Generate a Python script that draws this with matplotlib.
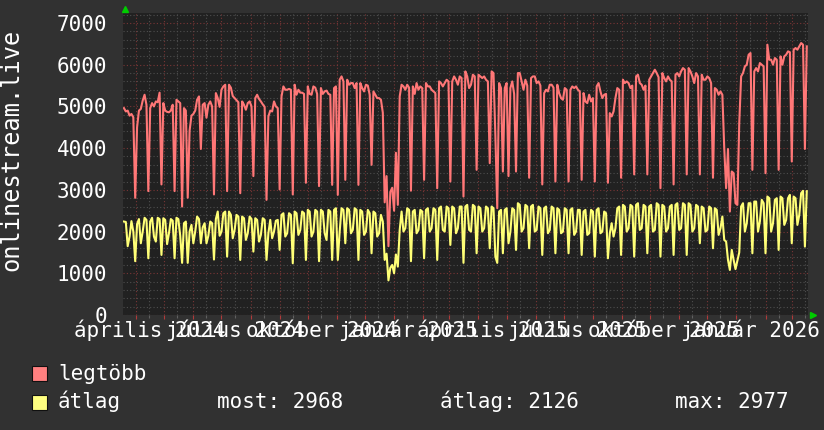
import numpy as np
import matplotlib
matplotlib.use("Agg")
import matplotlib.pyplot as plt
import matplotlib.dates as mdates
from matplotlib.ticker import MultipleLocator, NullFormatter
from matplotlib.patches import Rectangle

# one value per 2-day step starting 2024-03-18, each row = two weeks
start = np.datetime64("2024-03-18")

legtobb = [
    4960, 4880, 4900, 4780, 4820, 4740, 2810,
    4500, 4900, 4940, 5140, 5280, 5040, 2970,
    4960, 5080, 5000, 5120, 5100, 5330, 3130,
    5080, 4900, 4870, 4860, 4900, 5040, 2970,
    5160, 5120, 5080, 2600, 4960, 4900, 2810,
    4420, 4780, 4820, 4900, 5160, 5240, 3980,
    5040, 5080, 4730, 5040, 5120, 5000, 2890,
    5320, 5200, 4990, 5400, 5480, 5520, 2970,
    5520, 5450, 5250, 5200, 5150, 5100, 2920,
    5120, 5040, 4920, 5080, 5120, 5000, 3330,
    5200, 5280, 5180, 5120, 5050, 4990, 2760,
    4760, 4900, 4880, 5120, 5000, 4960, 3010,
    5240, 5480, 5400, 5400, 5420, 5400, 2890,
    5520, 5280, 5400, 5330, 5330, 5300, 3170,
    5480, 5300, 5280, 5480, 5450, 5300, 3090,
    5440, 5300, 5360, 5380, 5300, 5280, 3120,
    5440, 5480, 2880, 5640, 5720, 5600, 3240,
    5640, 5520, 5560, 5560, 5440, 5560, 3120,
    5560, 5440, 5360, 5520, 5500, 5280, 3600,
    5360, 5280, 5200, 5200, 5160, 4850, 2700,
    3330, 1650, 2950, 3050, 2500, 3890, 2640,
    5240, 5520, 5480, 5400, 5520, 5450, 2980,
    5480, 5300, 5560, 5400, 5480, 5440, 3240,
    5560, 5480, 5480, 5400, 5360, 5320, 3040,
    5600, 5560, 5480, 5560, 5640, 5600, 3200,
    5600, 5720, 5640, 5520, 5720, 5680, 2840,
    5840, 5720, 5440, 5520, 5760, 5720, 3480,
    5760, 5720, 5680, 5720, 5640, 5600, 3640,
    5840, 5800, 4300, 2560, 5560, 5440, 3440,
    5440, 5560, 3330, 5440, 5600, 5300, 3440,
    5800, 5800, 5600, 5400, 5640, 5500, 3290,
    5680, 5720, 5720, 5560, 5600, 5500, 3130,
    5320, 5400, 5360, 5520, 5520, 5450, 3200,
    5520, 5320, 5200, 5160, 5440, 5400, 3200,
    5400, 5480, 5440, 5480, 5400, 5360, 3240,
    5320, 5120, 5080, 5280, 5120, 5200, 3200,
    5480, 5560, 5360, 5200, 5280, 5300, 3170,
    4840, 4760, 4880, 5200, 5440, 5400, 3290,
    5640, 5560, 5600, 5560, 5440, 5500, 3370,
    5720, 5760, 5560, 5520, 5400, 5500, 3370,
    5640, 5720, 5800, 5880, 5800, 5700, 3040,
    5800, 5680, 5600, 5720, 5640, 5600, 3130,
    5760, 5800, 5720, 5840, 5920, 5880, 3370,
    5920, 5840, 5720, 5560, 5800, 5720, 3370,
    5760, 5640, 5640, 5720, 5680, 5560, 3290,
    5440, 5400, 5280, 5360, 5280, 4000, 3040,
    3980, 2480, 3440, 3400, 2680, 2640, 4600,
    5720, 5800, 5960, 6000, 6240, 6280, 3480,
    5840, 5920, 5840, 6040, 6000, 5960, 3400,
    6480, 6120, 6120, 6000, 6160, 6120, 3480,
    6200, 6000, 6200, 6240, 6320, 6300, 3680,
    6360, 6400, 6360, 6440, 6520, 6480, 3980,
    6440,
]

atlag = [
    2240, 2230, 1650, 1880, 2250, 2000, 1290,
    2180, 2300, 1720, 2000, 2330, 2280, 1360,
    2240, 2330, 1880, 1760, 2330, 2300, 1440,
    2320, 2280, 1700, 1960, 2300, 2260, 1360,
    2330, 2300, 1900, 1250, 2200, 2240, 1250,
    2000, 2160, 1720, 2000, 2360, 2300, 1720,
    2100, 2200, 1720, 1900, 2240, 2200, 1330,
    2300, 2480, 1900, 2000, 2440, 2480, 1400,
    2480, 2400, 1840, 2040, 2400, 2360, 1320,
    2360, 2320, 1800, 1960, 2360, 2300, 1520,
    2320, 2280, 1760, 1920, 2320, 2280, 1320,
    1960, 2280, 1840, 2000, 2260, 2280, 1560,
    2400, 2440, 1880, 1960, 2440, 2400, 1240,
    2480, 2440, 1920, 2040, 2480, 2440, 1320,
    2520, 2480, 1880, 2000, 2520, 2480, 1290,
    2520, 2480, 1960, 1800, 2520, 2480, 1320,
    2520, 2560, 1320, 2000, 2560, 2520, 1720,
    2560, 2520, 1960, 2040, 2560, 2520, 1320,
    2520, 2480, 1920, 2000, 2520, 2440, 1480,
    2480, 2440, 1880, 1960, 2400, 2240, 1320,
    1470, 830, 1130, 1200, 1000, 1450, 1160,
    2040, 2480, 2000, 2080, 2560, 2520, 1290,
    2480, 2520, 1960, 2040, 2520, 2480, 1360,
    2520, 2560, 2000, 2080, 2560, 2520, 1320,
    2560, 2600, 2040, 2000, 2600, 2560, 1680,
    2600, 2560, 1960, 2080, 2600, 2600, 1250,
    2600, 2640, 2040, 2000, 2640, 2600, 1480,
    2600, 2560, 2000, 2080, 2600, 2560, 1600,
    2600, 2560, 1400, 1250, 2480, 2520, 1480,
    2520, 2560, 1720, 2000, 2560, 2520, 1560,
    2680, 2640, 2000, 2080, 2640, 2600, 1600,
    2600, 2640, 2000, 2040, 2600, 2560, 1440,
    2560, 2600, 1960, 2040, 2600, 2560, 1480,
    2560, 2520, 1960, 2000, 2560, 2520, 1480,
    2520, 2560, 1920, 2000, 2520, 2520, 1440,
    2480, 2520, 1920, 1960, 2520, 2480, 1400,
    2520, 2560, 1960, 2000, 2480, 2440, 1360,
    1960, 2200, 1880, 2080, 2560, 2600, 1440,
    2640, 2600, 2000, 2080, 2640, 2600, 1400,
    2640, 2680, 2040, 2080, 2640, 2600, 1480,
    2600, 2640, 2000, 2040, 2680, 2640, 1400,
    2640, 2600, 2000, 2080, 2600, 2640, 1440,
    2640, 2680, 2040, 2080, 2680, 2640, 1440,
    2680, 2640, 2000, 2080, 2640, 2600, 1720,
    2600, 2560, 2000, 2040, 2600, 2560, 1600,
    2560, 2520, 1920, 2080, 2360, 1800, 1760,
    1320, 1080, 1560, 1320, 1100, 1300, 1500,
    2600, 2680, 2000, 2200, 2680, 2680, 1480,
    2720, 2720, 2000, 2240, 2760, 2680, 1480,
    2840, 2800, 2000, 2200, 2760, 2800, 1560,
    2840, 2800, 2160, 2280, 2800, 2880, 1720,
    2840, 2800, 2160, 2400, 2920, 2977, 1640,
    2968,
]

label_months = np.array(["2024-04-01", "2024-07-01", "2024-10-01", "2025-01-01",
                         "2025-04-01", "2025-07-01", "2025-10-01", "2026-01-01"],
                        dtype="datetime64[D]")
label_texts = ["április 2024", "július 2024", "október 2024", "január 2025",
               "április 2025", "július 2025", "október 2025", "január 2026"]

stats_text = ["most: 2968", "átlag: 2126", "max: 2977"]

plt.rcParams["font.family"] = ["DejaVu Sans Mono"]

W, H = 824, 430
fig = plt.figure(figsize=(W / 100, H / 100), dpi=100, facecolor="#313131")
ax = fig.add_axes([123 / W, 115 / H, 685 / W, 302 / H], facecolor="#212121")

times = start + np.arange(len(legtobb)) * 2 + 1
times = mdates.date2num(times.astype("datetime64[s]").astype(object))
ax.plot(times, legtobb, color="#ff7777", lw=1.5, zorder=3)
ax.plot(times, atlag, color="#ffff77", lw=1.5, zorder=4)

x0 = mdates.date2num(start.astype("datetime64[s]").astype(object))
ax.set_xlim(x0, x0 + 730.3)
ax.set_ylim(0, 7240)

ax.xaxis.set_major_locator(mdates.MonthLocator())
ax.xaxis.set_minor_locator(mdates.MonthLocator(bymonthday=15))
ax.xaxis.set_major_formatter(NullFormatter())
ax.yaxis.set_major_locator(MultipleLocator(1000))
ax.yaxis.set_minor_locator(MultipleLocator(200))
ax.set_yticks(range(0, 7001, 1000))

ax.grid(which="minor", color="#4e4e4e", linestyle=(0, (1, 2)), linewidth=0.8)
ax.grid(which="major", color="#7a3636", linestyle=(0, (1, 2)), linewidth=0.8)
ax.set_axisbelow(True)

ax.tick_params(axis="x", which="major", length=3, width=0.8, color="#b03a3a", direction="out")
ax.tick_params(axis="x", which="minor", length=2, width=0.8, color="#606060", direction="out")
ax.tick_params(axis="y", which="both", length=0, pad=11.5, labelsize=15, labelcolor="white")
for sp in ax.spines.values():
    sp.set_visible(False)

for d, t in zip(label_months, label_texts):
    xd = mdates.date2num(d.astype("datetime64[s]").astype(object)) + 15
    ax.text(xd, -22 / 302, t, transform=ax.get_xaxis_transform(), ha="center",
            va="baseline", color="white", fontsize=15, clip_on=False)

# green axis arrows
ax.plot([0.003], [1.012], marker="^", color="#00cc00", markersize=5,
        transform=ax.transAxes, clip_on=False, zorder=5)
ax.plot([1.007], [0.0], marker=">", color="#00cc00", markersize=5,
        transform=ax.transAxes, clip_on=False, zorder=5)

fig.text(11.5 / W, 1 - 150 / H, "onlinestream.live", rotation=90, ha="center",
         va="center", color="white", fontsize=17)

# legend
fig.add_artist(Rectangle((32 / W, 49 / H), 15 / W, 15 / H, transform=fig.transFigure,
                         facecolor="#ff8080", edgecolor="#101010", lw=0.8))
fig.add_artist(Rectangle((32 / W, 20 / H), 15 / W, 15 / H, transform=fig.transFigure,
                         facecolor="#ffff80", edgecolor="#101010", lw=0.8))
fig.text(58 / W, 50 / H, "legtöbb", color="white", fontsize=15, va="baseline")
fig.text(58 / W, 22 / H, "átlag", color="white", fontsize=15, va="baseline")
for xpx, s in zip([217, 440, 675], stats_text):
    fig.text(xpx / W, 22 / H, s, color="white", fontsize=15, va="baseline")

fig.savefig("out.png", dpi=100, facecolor=fig.get_facecolor())
